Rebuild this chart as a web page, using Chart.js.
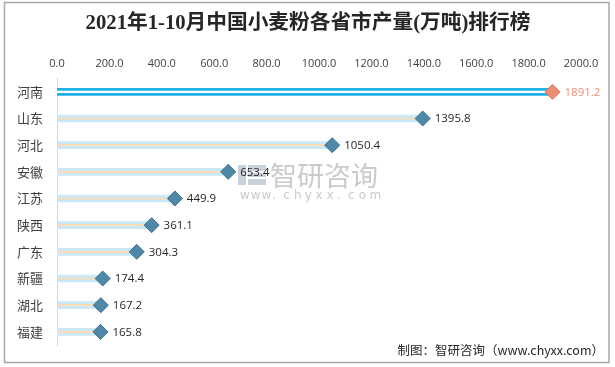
<!DOCTYPE html>
<html><head><meta charset="utf-8">
<script src="https://cdn.jsdelivr.net/npm/chart.js@4/dist/chart.umd.min.js"></script>
<style>html,body{margin:0;padding:0;background:#fff}#wrap{width:615px;height:367px;position:relative}</style>
</head><body><div id="wrap"><canvas id="c" width="615" height="367"></canvas></div>
<script>
const titleText = '2021年1-10月中国小麦粉各省市产量(万吨)排行榜';
const categories = ['河南','山东','河北','安徽','江苏','陕西','广东','新疆','湖北','福建'];
const values = [1891.2,1395.8,1050.4,653.4,449.9,361.1,304.3,174.4,167.2,165.8];
const xTicks = [0,200,400,600,800,1000,1200,1400,1600,1800,2000];
const sourceText = '制图：智研咨询（www.chyxx.com）';

const barColors = values.map((v,i)=> i===0 ? '#1eb1e9' : '#c8e9f7');
const lineColors = values.map((v,i)=> i===0 ? '#ffffff' : '#f9dcbc');
const markerFill = values.map((v,i)=> i===0 ? '#ef8d74' : '#4f88a8');
const markerBorder = values.map((v,i)=> i===0 ? '#d9735a' : '#3b6f8c');
const labelColors = values.map((v,i)=> i===0 ? '#ef8d74' : '#262626');

const decor = {
  id:'decor',
  beforeDraw(chart){
    const ctx = chart.ctx;
    ctx.save();
    ctx.fillStyle='#fff'; ctx.fillRect(0,0,615,367);
    ctx.strokeStyle='#a8a8a8'; ctx.lineWidth=1.5;
    ctx.strokeRect(4.5,2.5,604.5,360);
    ctx.fillStyle='#262626';
    ctx.font='bold 20.7px "Liberation Serif","Noto Sans CJK SC",serif';
    ctx.textAlign='center'; ctx.textBaseline='middle';
    ctx.fillText(titleText,308,24);
    // watermark
    ctx.fillStyle='rgba(150,150,150,0.5)';
    ctx.font='27px "Noto Sans CJK SC",sans-serif';
    ctx.textAlign='left';
    ctx.fillText('智研咨询',270,176);
    ctx.font='12px "DejaVu Sans",sans-serif';
    const w='www.chyxx.com';
    for(let i=0;i<w.length;i++){ ctx.fillText(w[i],240+i*10.8,196); }
    // logo
    ctx.fillStyle='rgba(120,140,170,0.4)';
    ctx.fillRect(238,165,8,20);
    ctx.fillRect(248,165,18,6);
    ctx.fillRect(248,173,18,4);
    ctx.fillRect(248,179,18,6);
    ctx.restore();
  },
  afterDraw(chart){
    const ctx = chart.ctx;
    ctx.save();
    ctx.fillStyle='#262626';
    ctx.font='12.5px "Noto Sans CJK SC",sans-serif';
    ctx.textAlign='right'; ctx.textBaseline='middle';
    ctx.fillText(sourceText,604,350);
    const meta = chart.getDatasetMeta(2);
    ctx.font='11.5px "Open Sans","DejaVu Sans",sans-serif';
    ctx.textAlign='left';
    meta.data.forEach((p,i)=>{
      ctx.fillStyle=labelColors[i];
      ctx.fillText(values[i].toFixed(1), p.x+12, p.y+0.5);
    });
    ctx.restore();
  }
};

new Chart(document.getElementById('c'),{
  data:{
    labels:categories,
    datasets:[
      {type:'bar',indexAxis:'y',data:values,backgroundColor:barColors,barThickness:7,grouped:false,order:3},
      {type:'bar',indexAxis:'y',data:values,backgroundColor:lineColors,barThickness:1.5,grouped:false,order:2},
      {type:'line',indexAxis:'y',data:values,showLine:false,pointStyle:'rectRot',pointRadius:7.5,pointHoverRadius:7.5,
       pointBackgroundColor:markerFill,pointBorderColor:markerBorder,pointBorderWidth:1,order:1}
    ]
  },
  options:{
    indexAxis:'y',
    responsive:false,animation:false,
    layout:{padding:{top:50,left:0,right:34,bottom:17}},
    plugins:{legend:{display:false},tooltip:{enabled:false},title:{display:false}},
    scales:{
      x:{position:'top',min:0,max:2000,
         afterBuildTicks(s){ s.ticks = xTicks.map(v=>({value:v})); },
         grid:{display:false,drawTicks:false},border:{display:false},
         ticks:{padding:8,color:'#404040',font:{size:11,family:'"Open Sans","DejaVu Sans",sans-serif'},callback:v=>Number(v).toFixed(1)},
         afterFit(s){ s.height=28.5; }},
      y:{grid:{display:false,drawTicks:false},border:{display:true,color:'#d6d6d6',width:1},
         ticks:{padding:14,color:'#404040',font:{size:13,family:'"Noto Sans CJK SC",sans-serif'}},
         afterFit(s){ s.width=57; }}
    }
  },
  plugins:[decor]
});
</script></body></html>
